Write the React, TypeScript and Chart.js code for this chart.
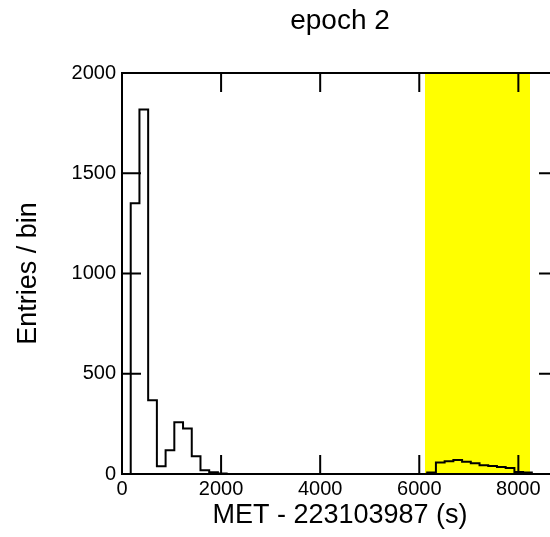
import React, { useEffect, useRef } from "react";
import { Chart, registerables } from "chart.js";

Chart.register(...registerables);

// Histogram binning (bin edges, seconds since MET 223103987)
const binEdges = [
  0, 176, 352, 528, 704, 880, 1056, 1232, 1408, 1584, 1760, 1936, 2112, 2288,
  2464, 2640, 2816, 2992, 3168, 3344, 3520, 3696, 3872, 4048, 4224, 4400, 4576,
  4752, 4928, 5104, 5280, 5456, 5632, 5808, 5984, 6160, 6336, 6512, 6688, 6864,
  7040, 7216, 7392, 7568, 7744, 7920, 8096, 8272, 8448, 8624, 8800,
];

// Entries per bin (one per bin, 50 bins)
const counts = [
  0, 1350, 1818, 368, 39, 119, 258, 227, 89, 19, 9, 2, 0, 0, 0, 0, 0, 0, 0, 0,
  0, 0, 0, 0, 0, 0, 0, 0, 0, 0, 0, 0, 0, 0, 0, 8, 57, 64, 70, 61, 54, 44, 40,
  35, 30, 10, 8, 0, 0, 0,
];

// Highlighted (yellow) interval
const bandStart = 6115;
const bandEnd = 8235;

const xTicks = [0, 2000, 4000, 6000, 8000];
const yTicks = [0, 500, 1000, 1500, 2000];
const xRange = [0, 8800];
const yRange = [0, 2000];

const titleText = "epoch 2";
const xTitle = "MET - 223103987 (s)";
const yTitle = "Entries / bin";

const FONT = "'Liberation Sans', Arial, Helvetica, sans-serif";
const TICK_LEN = 19;

const framePlugin = {
  id: "rootFrame",
  afterDatasetsDraw(chart: any) {
    const { ctx, chartArea, scales } = chart;
    const { left, top, right, bottom } = chartArea;
    const xs = scales.x;
    const ys = scales.y;
    ctx.save();
    ctx.strokeStyle = "#000";
    ctx.lineWidth = 2;
    ctx.beginPath();
    ctx.rect(left, top, right - left, bottom - top);
    ctx.stroke();
    ctx.beginPath();
    xs.ticks.forEach((t: any) => {
      const px = xs.getPixelForValue(t.value);
      ctx.moveTo(px, bottom);
      ctx.lineTo(px, bottom - TICK_LEN);
      ctx.moveTo(px, top);
      ctx.lineTo(px, top + TICK_LEN);
    });
    ys.ticks.forEach((t: any) => {
      const py = ys.getPixelForValue(t.value);
      ctx.moveTo(left, py);
      ctx.lineTo(left + TICK_LEN, py);
      ctx.moveTo(right, py);
      ctx.lineTo(right - TICK_LEN, py);
    });
    ctx.stroke();
    ctx.restore();
  },
};

export default function App() {
  const canvasRef = useRef<HTMLCanvasElement | null>(null);

  useEffect(() => {
    const canvas = canvasRef.current;
    if (!canvas) return;

    const histPoints = binEdges.map((e, i) => ({
      x: e,
      y: i < counts.length ? counts[i] : 0,
    }));

    const chart = new Chart(canvas, {
      type: "line",
      data: {
        datasets: [
          {
            label: "hist",
            data: histPoints,
            stepped: true,
            borderColor: "#000",
            borderWidth: 2,
            pointRadius: 0,
            fill: false,
            order: 1,
          } as any,
          {
            label: "band",
            data: [
              { x: bandStart, y: yRange[1] },
              { x: bandEnd, y: yRange[1] },
            ],
            borderWidth: 0,
            borderColor: "rgba(0,0,0,0)",
            backgroundColor: "#ffff00",
            pointRadius: 0,
            fill: "origin",
            order: 2,
          } as any,
        ],
      },
      options: {
        responsive: false,
        animation: false,
        devicePixelRatio: 1,
        layout: { padding: { left: 0, right: 2, top: 0, bottom: 0 } },
        plugins: {
          legend: { display: false },
          tooltip: { enabled: false },
          title: {
            display: true,
            text: titleText,
            fullSize: false,
            color: "#000",
            font: { family: FONT, size: 28, weight: "normal" },
            padding: { top: 4.4, bottom: 35 },
          },
        },
        scales: {
          x: {
            type: "linear",
            position: "bottom",
            min: xRange[0],
            max: xRange[1],
            afterFit: (s: any) => {
              s.height = 63;
            },
            afterBuildTicks: (s: any) => {
              s.ticks = xTicks.map((v) => ({ value: v }));
            },
            grid: { display: false, drawTicks: false },
            border: { display: false },
            ticks: {
              autoSkip: false,
              maxRotation: 0,
              padding: 3,
              color: "#000",
              font: { family: FONT, size: 20 },
              callback: (v: any) => String(v),
            },
            title: {
              display: true,
              text: xTitle,
              color: "#000",
              font: { family: FONT, size: 27 },
              padding: { top: 0, bottom: 5 },
            },
          },
          y: {
            type: "linear",
            position: "left",
            min: yRange[0],
            max: yRange[1],
            afterFit: (s: any) => {
              s.width = 122;
            },
            afterBuildTicks: (s: any) => {
              s.ticks = yTicks.map((v) => ({ value: v }));
            },
            grid: { display: false, drawTicks: false },
            border: { display: false },
            ticks: {
              padding: 6,
              color: "#000",
              font: { family: FONT, size: 20 },
              callback: (v: any) => String(v),
            },
            title: {
              display: true,
              text: yTitle,
              color: "#000",
              font: { family: FONT, size: 27 },
              padding: { top: 12, bottom: 0 },
            },
          },
        },
      } as any,
      plugins: [framePlugin],
    });

    return () => {
      chart.destroy();
    };
  }, []);

  return (
    <div
      style={{
        position: "fixed",
        left: 0,
        top: 0,
        width: 550,
        height: 537,
        overflow: "hidden",
        background: "#fff",
      }}
    >
      <canvas
        ref={canvasRef}
        width={560}
        height={537}
        style={{ display: "block", width: 560, height: 537 }}
      />
    </div>
  );
}
